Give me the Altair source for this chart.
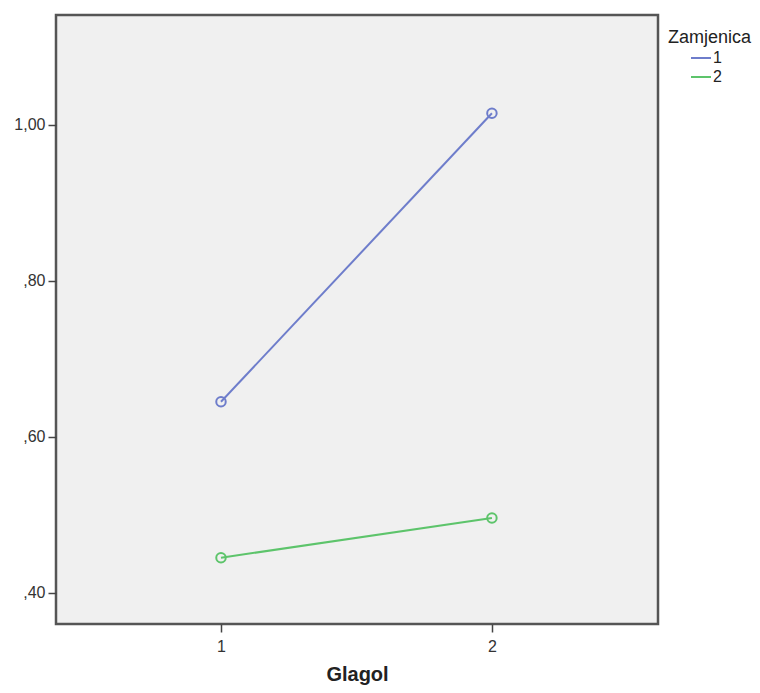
import altair as alt
import pandas as pd

glagol = [1, 2, 1, 2]
zamjenica = ["1", "1", "2", "2"]
means = [0.645, 1.015, 0.445, 0.496]

y_ticks = [0.40, 0.60, 0.80, 1.00]
x_ticks = [1, 2]

df = pd.DataFrame({"Glagol": glagol, "Zamjenica": zamjenica, "Mean": means})

FONT = "Liberation Sans"
color_scale = alt.Scale(domain=["1", "2"], range=["#6E7DCB", "#5DC46B"])

base = alt.Chart(df).encode(
    x=alt.X(
        "Glagol:Q",
        scale=alt.Scale(domain=[0.391, 2.613], nice=False, zero=False),
        axis=alt.Axis(values=x_ticks, title="Glagol", grid=False, format="d",
                      tickSize=8, labelPadding=6, titlePadding=10,
                      titleFontSize=20, titleFontWeight="bold", titleFont=FONT,
                      labelFont=FONT, labelFontSize=16, labelColor="#333333",
                      titleColor="#222222", domain=False, tickColor="#444444",
                      tickWidth=1.5),
    ),
    y=alt.Y(
        "Mean:Q",
        scale=alt.Scale(domain=[0.360, 1.141], nice=False, zero=False),
        axis=alt.Axis(values=y_ticks, title=None, grid=False,
                      labelExpr="replace(replace(format(datum.value, '.2f'), '0.', ','), '.', ',')",
                      tickSize=8, labelPadding=3, labelFont=FONT, labelFontSize=16,
                      labelColor="#333333", domain=False, tickColor="#444444",
                      tickWidth=1.5),
    ),
    color=alt.Color(
        "Zamjenica:N",
        scale=color_scale,
        legend=alt.Legend(
            title="Zamjenica", orient="none", legendX=612, legendY=14,
            symbolType="stroke", symbolStrokeWidth=2, symbolSize=400,
            symbolOffset=22, labelOffset=1, rowPadding=-8,
            titleFont=FONT, titleFontSize=18, titleFontWeight="normal",
            titleColor="#222222", labelFont=FONT, labelFontSize=16,
            labelColor="#222222", titlePadding=0,
        ),
    ),
)

lines = base.mark_line(strokeWidth=2)
points = base.mark_point(shape="circle", size=90, strokeWidth=2, filled=False, opacity=1)

chart = (
    alt.layer(lines, points)
    .properties(
        width=602,
        height=609,
        autosize=alt.AutoSizeParams(type="none"),
        padding={"left": 48, "top": 7, "right": 94, "bottom": 61},
    )
    .configure_view(fill="#F0F0F0", stroke="#555555", strokeWidth=2.5)
)

chart.save("out.html", embed_options={"renderer": "svg", "actions": False})
